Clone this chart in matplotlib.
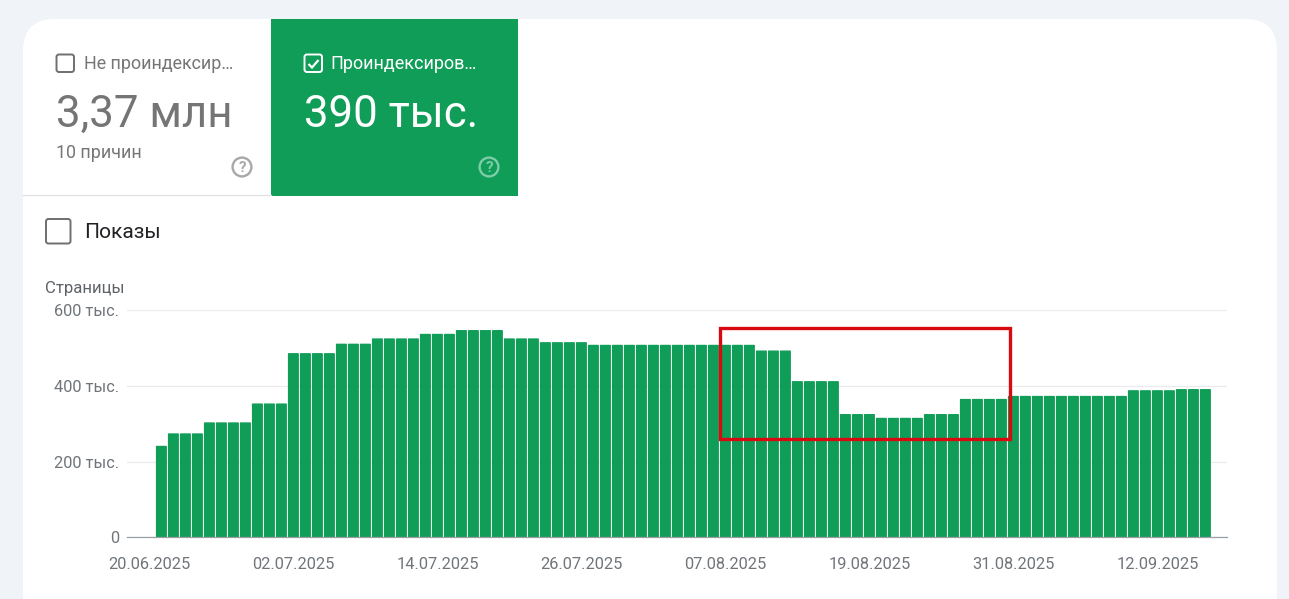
import datetime as dt
import matplotlib
matplotlib.use("Agg")
import matplotlib.pyplot as plt
import matplotlib.dates as mdates
from matplotlib.patches import FancyBboxPatch, Rectangle, Circle, PathPatch
from matplotlib.path import Path

plt.rcParams['font.family'] = ['Roboto', 'DejaVu Sans']

# ---- data ----
start_date = dt.date(2025, 6, 21)
indexed_pages = [
    240,
    273, 273, 273,
    302, 302, 302, 302,
    352, 352, 352,
    485, 485, 485, 485,
    510, 510, 510,
    524, 524, 524, 524,
    536, 536, 536,
    546, 546, 546, 546,
    524, 524, 524,
    514, 514, 514, 514,
    507, 507, 507, 507, 507, 507, 507, 507, 507, 507, 507, 507, 507, 507,
    492, 492, 492,
    411, 411, 411, 411,
    324, 324, 324,
    314, 314, 314, 314,
    324, 324, 324,
    364, 364, 364, 364,
    372, 372, 372, 372, 372, 372, 372, 372, 372, 372,
    387, 387, 387, 387,
    390, 390, 390,
]
y_ticks = [0, 200, 400, 600]
y_labels = ['0', '200 тыс.', '400 тыс.', '600 тыс.']
x_tick_labels = ['20.06.2025', '02.07.2025', '14.07.2025', '26.07.2025',
                 '07.08.2025', '19.08.2025', '31.08.2025', '12.09.2025']
series_title = 'Страницы'
tile_off = ['Не проиндексир…', '3,37 млн', '10 причин']
tile_on = ['Проиндексиров…', '390 тыс.']
toggle = 'Показы'

GREEN = '#0F9D58'
GREY = '#757575'
W, H = 1289, 599

fig = plt.figure(figsize=(W / 100, H / 100), dpi=100, facecolor='#F0F4F9')


def axes_px(x0, y0, x1, y1, **kw):
    return fig.add_axes([x0 / W, 1 - y1 / H, (x1 - x0) / W, (y1 - y0) / H], **kw)


# ---- background chrome ----
bg = axes_px(0, 0, W, H, zorder=0)
bg.set_xlim(0, W)
bg.set_ylim(H, 0)
bg.axis('off')
bg.add_patch(FancyBboxPatch((23, 19), 1254, 700, boxstyle='round,pad=0,rounding_size=32',
                            fc='white', ec='none'))
bg.add_patch(Rectangle((271, 19), 247, 177, fc=GREEN, ec='none'))
bg.plot([23, 271], [195.3, 195.3], color='#E0E0E0', lw=0.9)


def checkbox(x, y, s, color, lw=1.4, check=False):
    bg.add_patch(FancyBboxPatch((x, y), s, s, boxstyle='round,pad=0,rounding_size=2.5',
                                fc='none', ec=color, lw=lw))
    if check:
        bg.add_patch(PathPatch(Path([(x + 4, y + 9.5), (x + 7.5, y + 13), (x + 14, y + 5.5)]),
                               fc='none', ec=color, lw=1.6))


def helpicon(x, y, color):
    bg.add_patch(Circle((x, y), 9.4, fc='none', ec=color, lw=1.7))
    bg.text(x, y + 5.4, '?', color=color, fontsize=11, ha='center', va='baseline',
            fontweight='bold')


checkbox(56.5, 54.5, 17.5, '#6F6F6F')
checkbox(304.5, 54.5, 17.5, 'white', check=True)
checkbox(46, 219, 24.5, '#6F6F6F')
helpicon(242, 167, '#A8A8A8')
helpicon(489, 167, '#7FCCA8')

bg.text(84, 69, tile_off[0], color=GREY, fontsize=12.85, va='baseline')
bg.text(56, 127, tile_off[1], color=GREY, fontsize=31.6, va='baseline')
bg.text(56, 157.5, tile_off[2], color=GREY, fontsize=12.9, va='baseline')
bg.text(330.5, 69, tile_on[0], color='white', fontsize=13, va='baseline')
bg.text(304, 127, tile_on[1], color='white', fontsize=31.5, va='baseline')
bg.text(84.5, 237.5, toggle, color='#202124', fontsize=15.1, va='baseline')
bg.text(45, 292.5, series_title, color='#5F6368', fontsize=12.1, va='baseline')

# ---- chart ----
ax = axes_px(127, 310.3, 1227, 537.3, zorder=1)
ax.patch.set_alpha(0)
dates = [start_date + dt.timedelta(days=i) for i in range(len(indexed_pages))]
tick_dates = [dt.datetime.strptime(s, '%d.%m.%Y').date() for s in x_tick_labels]
origin = mdates.date2num(tick_dates[0])
ax.set_xlim(origin + (127 - 149.4) / 12, origin + (1227 - 149.4) / 12)
ax.set_ylim(0, 600)
bars = ax.bar(dates, indexed_pages, width=0.8, color=GREEN, edgecolor=GREEN, linewidth=1.0,
              joinstyle='round', zorder=3)
for b in bars:
    b.set_snap(False)
ax.set_yticks(y_ticks, y_labels)
ax.set_xticks(tick_dates, x_tick_labels)
ax.grid(axis='y', color='#EBEBEB', lw=0.9, zorder=1)
ax.set_axisbelow(True)
for s in ['top', 'left', 'right']:
    ax.spines[s].set_visible(False)
ax.spines['bottom'].set_color('#9AA0A6')
ax.spines['bottom'].set_linewidth(0.9)
ax.spines['bottom'].set_zorder(4)
ax.tick_params(axis='both', length=0, labelsize=11.8, labelcolor='#70757A')
ax.tick_params(axis='x', pad=14.5)
ax.tick_params(axis='y', pad=5.8)

# ---- red annotation box ----
top = axes_px(0, 0, W, H, zorder=2)
top.patch.set_alpha(0)
top.set_xlim(0, W)
top.set_ylim(H, 0)
top.axis('off')
top.add_patch(Rectangle((720, 328), 290, 110.7, fc='none', ec='#D90910', lw=2.4,
                        joinstyle='miter'))

fig.savefig('out.png', dpi=100, facecolor=fig.get_facecolor())
